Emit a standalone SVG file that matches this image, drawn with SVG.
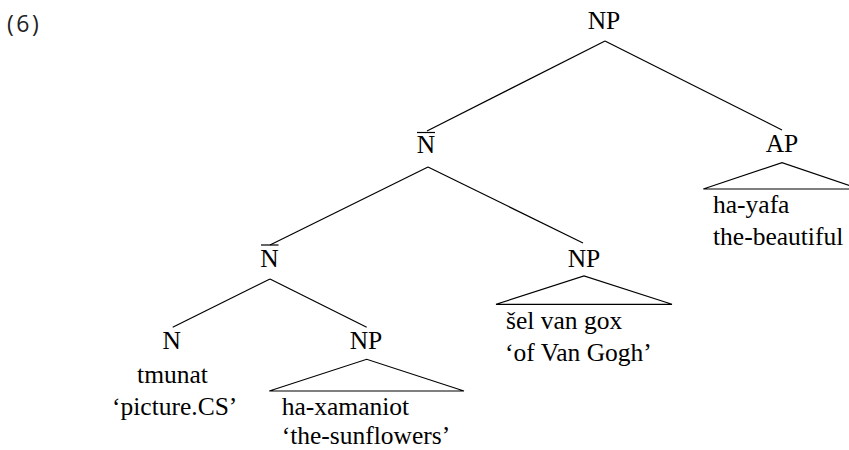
<svg xmlns="http://www.w3.org/2000/svg" width="849" height="450" viewBox="0 0 849 450">
<style>
text{font-family:"Liberation Serif","Tinos","DejaVu Serif","Noto Serif",serif;font-size:25.5px;fill:#000}
.c{text-anchor:middle}
.ex{font-family:"Open Sans","Noto Sans",sans-serif;font-size:23px;fill:#222;letter-spacing:2.5px}
.e{stroke:#000;stroke-width:1.2;fill:none}
.bar{stroke:#000;stroke-width:1.2}
</style>
<rect width="849" height="450" fill="#fff"/>
<text class="ex" x="7" y="32">(6)</text>
<g id="connectors">
<line class="e" x1="605" y1="41" x2="427" y2="131"/>
<line class="e" x1="605" y1="41" x2="782" y2="130"/>
<line class="e" x1="428" y1="167" x2="270" y2="245"/>
<line class="e" x1="428" y1="167" x2="583" y2="243"/>
<line class="e" x1="270" y1="279" x2="172.7" y2="327.3"/>
<line class="e" x1="270" y1="279" x2="366.7" y2="327.3"/>
</g>
<g id="np-root"><text class="c" x="604" y="28.5">NP</text></g>
<g id="nbar-upper">
<line class="bar" x1="417" y1="132.5" x2="435" y2="132.5"/>
<text class="c" x="426" y="153">N</text>
</g>
<g id="ap">
<text class="c" x="782" y="152">AP</text>
<path class="e" d="M703.3,189 L782,162.7 L860,189 Z"/>
<text x="713" y="213">ha-yafa</text>
<text x="713" y="245">the-beautiful</text>
</g>
<g id="nbar-lower">
<line class="bar" x1="261" y1="245" x2="278.5" y2="245"/>
<text class="c" x="269.5" y="266.7">N</text>
</g>
<g id="np-mid">
<text class="c" x="584" y="266.7">NP</text>
<path class="e" d="M496,304.3 L584,276 L672,304.3 Z"/>
<text x="506" y="329.3">šel van gox</text>
<text x="505" y="361">‘of Van Gogh’</text>
</g>
<g id="n">
<text class="c" x="171.7" y="349.3">N</text>
<text class="c" x="172.5" y="383">tmunat</text>
<text class="c" x="174.7" y="415">‘picture.CS’</text>
</g>
<g id="np-low">
<text class="c" x="366" y="349.3">NP</text>
<path class="e" d="M269.3,391 L366.7,359.3 L464,391 Z"/>
<text x="281.7" y="415">ha-xamaniot</text>
<text x="281.7" y="444">‘the-sunflowers’</text>
</g>
</svg>
